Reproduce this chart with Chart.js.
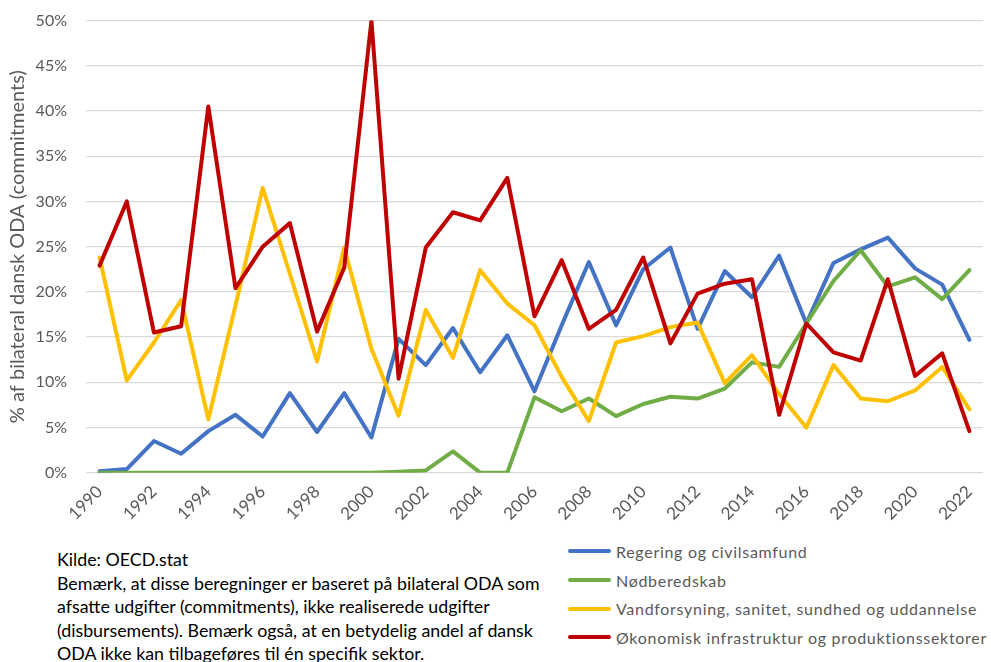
<!DOCTYPE html>
<html>
<head>
<meta charset="utf-8">
<script src="https://cdn.jsdelivr.net/npm/chart.js@4.4.1/dist/chart.umd.min.js"></script>
<style>
  html, body { margin: 0; padding: 0; background: #fff; }
  #wrap { position: relative; width: 991px; height: 662px; overflow: hidden; font-family: Lato, sans-serif; }
  #chartBox { position: absolute; left: 0; top: -8px; width: 991px; height: 533px; }
  #notes { position: absolute; left: 57px; top: 548px; width: 520px; font-size: 17.8px; line-height: 23.6px; color: #000; white-space: nowrap; }
  #legend { position: absolute; left: 568px; top: 537px; font-size: 16px; color: #595959; letter-spacing: 0.7px; }
  .leg-item { height: 28.7px; display: flex; align-items: center; white-space: nowrap; }
  .leg-line { width: 43px; height: 4px; border-radius: 2px; margin-right: 5px; }
</style>
</head>
<body>
<div id="wrap">
  <div id="chartBox"><canvas id="odaChart"></canvas></div>
  <div id="notes">
    Kilde: OECD.stat<br>
    Bemærk, at disse beregninger er baseret på bilateral ODA som<br>
    afsatte udgifter (commitments), ikke realiserede udgifter<br>
    (disbursements). Bemærk også, at en betydelig andel af dansk<br>
    ODA ikke kan tilbageføres til én specifik sektor.
  </div>
  <div id="legend"></div>
</div>
<script>
const years = ['1990','1991','1992','1993','1994','1995','1996','1997','1998','1999','2000',
  '2001','2002','2003','2004','2005','2006','2007','2008','2009','2010','2011',
  '2012','2013','2014','2015','2016','2017','2018','2019','2020','2021','2022'];

// % af bilateral dansk ODA
const regering = [0.15, 0.4, 3.5, 2.1, 4.6, 6.4, 4.0, 8.8, 4.5, 8.8, 3.9,
  14.8, 11.9, 16.0, 11.1, 15.2, 9.0, 16.3, 23.3, 16.3, 22.5, 24.9,
  15.9, 22.3, 19.4, 24.0, 16.5, 23.2, 24.7, 26.0, 22.6, 20.8, 14.7];
const noedberedskab = [0, 0, 0, 0, 0, 0, 0, 0, 0, 0, 0,
  0.1, 0.25, 2.35, 0, 0, 8.35, 6.8, 8.2, 6.25, 7.6, 8.4,
  8.2, 9.3, 12.2, 11.7, 16.5, 21.2, 24.6, 20.6, 21.6, 19.2, 22.4];
const vandforsyning = [23.8, 10.2, 14.4, 19.1, 5.9, 18.5, 31.5, 22.0, 12.3, 24.9, 13.7,
  6.3, 18.0, 12.7, 22.4, 18.7, 16.3, 10.6, 5.7, 14.4, 15.1, 16.1,
  16.6, 9.9, 13.0, 8.7, 5.0, 11.9, 8.2, 7.9, 9.1, 11.7, 7.0];
const oekonomisk = [22.9, 30.0, 15.5, 16.2, 40.5, 20.4, 25.0, 27.6, 15.6, 22.7, 50.0,
  10.4, 24.9, 28.8, 27.9, 32.6, 17.3, 23.5, 15.9, 18.0, 23.8, 14.3,
  19.8, 20.9, 21.4, 6.4, 16.5, 13.3, 12.4, 21.4, 10.7, 13.2, 4.6];

const seriesNames = ['Regering og civilsamfund', 'Nødberedskab',
  'Vandforsyning, sanitet, sundhed og uddannelse', 'Økonomisk infrastruktur og produktionssektorer'];
const seriesColors = ['#4472C4', '#70AD47', '#FFC000', '#C00000'];
const seriesData = [regering, noedberedskab, vandforsyning, oekonomisk];

const font = 'Lato, sans-serif';
const grey = '#595959';

const ctx = document.getElementById('odaChart').getContext('2d');
const odaChart = new Chart(ctx, {
  type: 'line',
  data: {
    labels: years,
    // draw red last so it sits on top
    datasets: seriesData.map((d, i) => ({
      label: seriesNames[i],
      data: d,
      borderColor: seriesColors[i],
      backgroundColor: seriesColors[i],
      borderWidth: 4,
      borderJoinStyle: 'round',
      borderCapStyle: 'round',
      pointRadius: 0,
      tension: 0,
      order: 4 - i
    }))
  },
  options: {
    responsive: true,
    maintainAspectRatio: false,
    animation: false,
    layout: { padding: { top: 2, right: 8, left: 0, bottom: 0 } },
    plugins: {
      legend: { display: false },
      tooltip: { enabled: false }
    },
    scales: {
      x: {
        offset: true,
        grid: { display: false },
        border: { display: false },
        ticks: {
          color: grey,
          font: { family: font, size: 17 },
          autoSkip: false,
          minRotation: 45,
          maxRotation: 45,
          padding: 1,
          callback: function (val, idx) { return idx % 2 === 0 ? years[idx] : ''; }
        }
      },
      y: {
        min: 0,
        max: 50,
        afterFit: (s) => { s.width = 86; },
        grid: { color: '#d9d9d9', lineWidth: 1.2, drawTicks: false },
        border: { display: false },
        ticks: {
          stepSize: 5,
          color: grey,
          padding: 19,
          font: { family: font, size: 16 },
          callback: (v) => v + '%'
        },
        title: {
          display: true,
          text: '% af bilateral dansk ODA (commitments)',
          color: grey,
          font: { family: font, size: 20 },
          padding: { top: 6, bottom: 0 }
        }
      }
    }
  }
});

// HTML legend built from the chart's datasets
const legendEl = document.getElementById('legend');
odaChart.data.datasets.forEach(ds => {
  const item = document.createElement('div');
  item.className = 'leg-item';
  item.innerHTML = `<span class="leg-line" style="background:${ds.borderColor}"></span><span>${ds.label}</span>`;
  legendEl.appendChild(item);
});
</script>
</body>
</html>
